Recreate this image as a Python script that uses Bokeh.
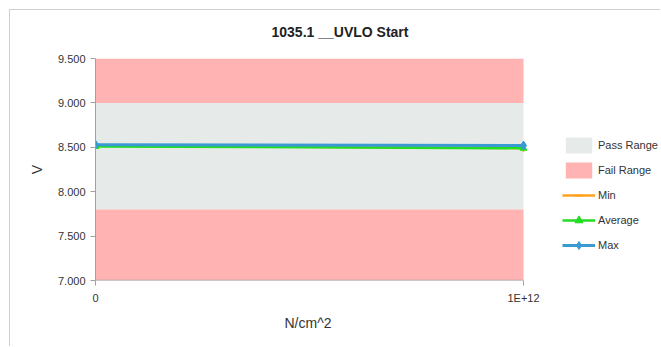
from bokeh.plotting import figure
from bokeh.models import (FixedTicker, NumeralTickFormatter, CustomJSTickFormatter,
                          Legend, LegendItem, Title, Range1d)
from bokeh.embed import file_html
from bokeh.resources import INLINE

# ---- data ----
title_text = "1035.1 __UVLO Start"
x_label = "N/cm^2"
y_label = "V"
x_vals = [0, 1e12]
x_tick_labels = ["0", "1E+12"]
y_ticks = [7.0, 7.5, 8.0, 8.5, 9.0, 9.5]
min_vals = [8.52, 8.49]
avg_vals = [8.51, 8.49]
max_vals = [8.53, 8.52]
pass_low, pass_high = 7.8, 9.0
y_min, y_max = 7.0, 9.5

FONT = "Liberation Sans"

# frame is widened to the right so the legend can sit beside the data area
FRAME_W, DATA_W = 566, 428
x_end = x_vals[-1] * FRAME_W / DATA_W

p = figure(width=651, height=337, output_backend="svg", toolbar_location=None,
           x_range=Range1d(x_vals[0], x_end), y_range=Range1d(y_min, y_max),
           min_border_left=85, min_border_right=0, min_border_top=48,
           min_border_bottom=67)
p.styles = {"margin-left": "9px", "margin-top": "9px",
            "border-left": "1px solid #d0d0d0", "border-top": "1px solid #d0d0d0"}
p.background_fill_color = "white"
p.border_fill_color = "white"
p.outline_line_color = None
p.grid.visible = False

# a trailing empty line lifts the title higher above the plot area
p.title = Title(text=title_text + "\n", align="left", offset=176,
                text_font=FONT, text_font_size="14px", text_font_style="bold",
                text_color="#222222", standoff=6)

# bands
pass_r = p.quad(left=x_vals[0], right=x_vals[-1], bottom=pass_low, top=pass_high,
                fill_color="#e6ebea", line_color=None)
fail_hi = p.quad(left=x_vals[0], right=x_vals[-1], bottom=pass_high, top=y_max,
                 fill_color="#ffb3b3", line_color=None)
fail_lo = p.quad(left=x_vals[0], right=x_vals[-1], bottom=y_min, top=pass_low,
                 fill_color="#ffb3b3", line_color=None)

# x axis baseline, only across the data area
p.segment(x0=[x_vals[0]], x1=[x_vals[-1]], y0=[y_min], y1=[y_min],
          line_color="#a0a0a0", line_width=1.5)

# series
min_l = p.line(x_vals, min_vals, line_color="#ffa21f", line_width=2.5)
min_m = p.scatter(x_vals, min_vals, marker="dash", angle=1.5708, size=7,
                  line_color="#ffa21f", line_width=2)
avg_l = p.line(x_vals, avg_vals, line_color="#22dd22", line_width=2.5)
avg_m = p.scatter(x_vals, avg_vals, marker="triangle", size=7,
                  fill_color="#22dd22", line_color="#22dd22")
max_l = p.line(x_vals, max_vals, line_color="#3a9ad2", line_width=3)
max_m = p.scatter(x_vals, max_vals, marker="diamond", size=9,
                  fill_color="#3a9ad2", line_color="#3a9ad2")

# axes
p.yaxis.ticker = FixedTicker(ticks=y_ticks)
p.yaxis.formatter = NumeralTickFormatter(format="0.000")
p.xaxis.ticker = FixedTicker(ticks=x_vals)
p.xaxis.formatter = CustomJSTickFormatter(args=dict(vals=x_vals, labs=x_tick_labels),
    code="for (let i = 0; i < vals.length; i++) { if (Math.abs(tick - vals[i]) < 1) return labs[i]; } return '';")
for ax in (p.xaxis[0], p.yaxis[0]):
    ax.axis_line_color = "#a0a0a0"
    ax.major_tick_line_color = "#a0a0a0"
    ax.major_tick_out = 5
    ax.major_tick_in = 0
    ax.minor_tick_line_color = None
    ax.major_label_text_font = FONT
    ax.major_label_text_font_size = "11px"
    ax.major_label_text_color = "#333333"
    ax.axis_label_text_font = FONT
    ax.axis_label_text_font_size = "14px"
    ax.axis_label_text_font_style = "normal"
    ax.axis_label_text_color = "#333333"
p.xaxis.axis_line_color = None
p.xaxis.major_label_standoff = 6
p.yaxis.axis_label = y_label
p.yaxis.major_label_standoff = 5
p.yaxis.axis_label_standoff = 10

p.add_layout(Title(text=x_label, align="left", offset=189, text_font=FONT,
                   text_font_size="14px", text_font_style="normal",
                   text_color="#333333", standoff=12), "below")

legend = Legend(items=[
    LegendItem(label="Pass Range", renderers=[pass_r]),
    LegendItem(label="Fail Range", renderers=[fail_hi]),
    LegendItem(label="Min", renderers=[min_l, min_m]),
    LegendItem(label="Average", renderers=[avg_l, avg_m]),
    LegendItem(label="Max", renderers=[max_l, max_m]),
], location=(467, 25), border_line_color=None, background_fill_alpha=0,
   padding=0, margin=0, spacing=5, glyph_width=33, glyph_height=20,
   label_text_font=FONT, label_text_font_size="11px", label_text_color="#333333",
   label_standoff=3)
p.add_layout(legend, "center")

open("out.html", "w").write(file_html(p, INLINE))
